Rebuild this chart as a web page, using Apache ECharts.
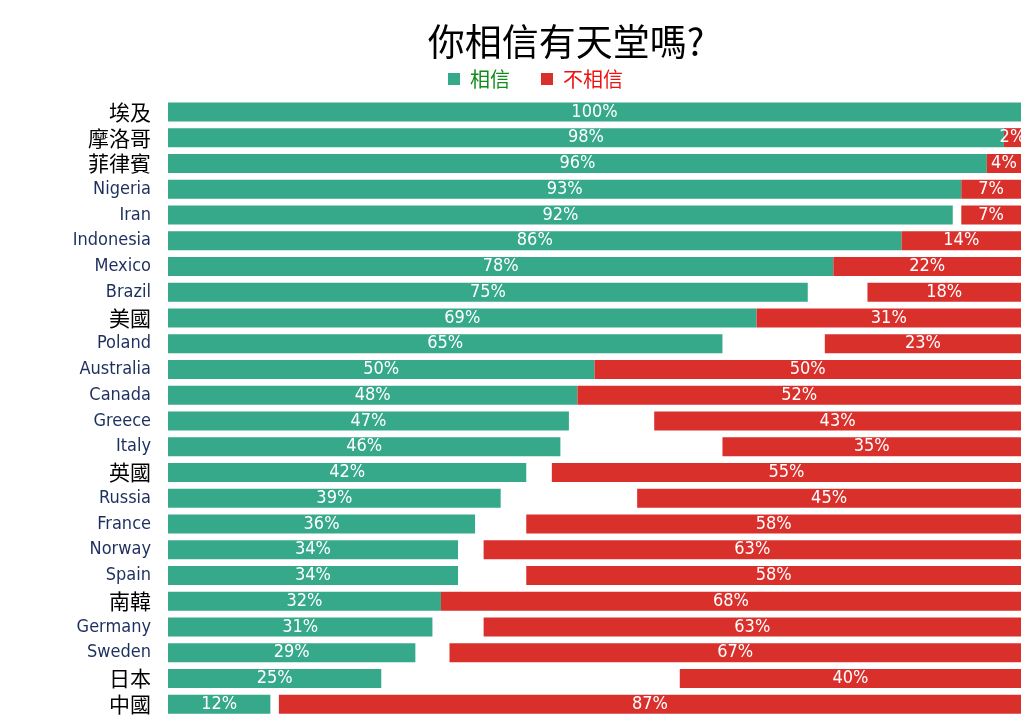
<!DOCTYPE html>
<html><head><meta charset="utf-8">
<script src="https://cdn.jsdelivr.net/npm/echarts@6/dist/echarts.min.js"></script>
<style>html,body{margin:0;padding:0;background:#fff}#c{width:1036px;height:727px}</style>
</head><body><div id="c"></div>
<script>
const categories = ['埃及','摩洛哥','菲律賓','Nigeria','Iran','Indonesia','Mexico','Brazil','美國','Poland','Australia','Canada','Greece','Italy','英國','Russia','France','Norway','Spain','南韓','Germany','Sweden','日本','中國'];
const believe    = [100,98,96,93,92,86,78,75,69,65,50,48,47,46,42,39,36,34,34,32,31,29,25,12];
const notBelieve = [0,2,4,7,7,14,22,18,31,23,50,52,43,35,55,45,58,63,58,68,63,67,40,87];
const gap = believe.map((g,i)=>Math.max(0,100-g-notBelieve[i]));

const GREEN='#35a98a', RED='#d9302c';
const labelFont = "'Liberation Sans Narrow','DejaVu Sans Condensed','Roboto',sans-serif";
const chart = echarts.init(document.getElementById('c'));
chart.setOption({
  animation:false,
  title:{text:'你相信有天堂嗎?',left:561,top:18,textAlign:'center',
    textStyle:{fontFamily:"'Noto Sans CJK TC',sans-serif",fontSize:37,fontWeight:'normal',color:'#000'}},
  legend:{top:64,left:443,itemWidth:12,itemHeight:12,itemGap:31,icon:'rect',
    data:[{name:'相信',textStyle:{color:'#138a1c'}},{name:'不相信',textStyle:{color:'#ee1111'}}],
    textStyle:{fontFamily:"'Noto Sans CJK TC',sans-serif",fontSize:20,padding:[0,0,0,5]}},
  grid:{left:168,right:15,top:99,bottom:10},
  xAxis:{type:'value',min:0,max:100,show:false},
  yAxis:{type:'category',data:categories,inverse:true,
    axisLine:{show:false},axisTick:{show:false},
    axisLabel:{margin:17,formatter:v=>/[\u4e00-\u9fff]/.test(v)?'{zh|'+v+'}':'{en|'+v+'}',
      rich:{zh:{fontFamily:"'Noto Sans CJK TC',serif",fontSize:21,color:'#000'},
            en:{fontFamily:labelFont,fontSize:18,color:'#1d2f5e'}}}},
  series:[
    {name:'相信',type:'bar',stack:'a',data:believe,barWidth:19,itemStyle:{color:GREEN},
      label:{show:true,position:'inside',formatter:p=>p.value+'%',color:'#fff',fontFamily:labelFont,fontSize:18}},
    {name:'gap',type:'bar',stack:'a',data:gap,barWidth:19,silent:true,itemStyle:{color:'rgba(0,0,0,0)'},label:{show:false}},
    {name:'不相信',type:'bar',stack:'a',data:notBelieve,barWidth:19,itemStyle:{color:RED},
      label:{show:true,position:'inside',formatter:p=>p.value>0?p.value+'%':'',color:'#fff',fontFamily:labelFont,fontSize:18}}
  ]
});
</script></body></html>
